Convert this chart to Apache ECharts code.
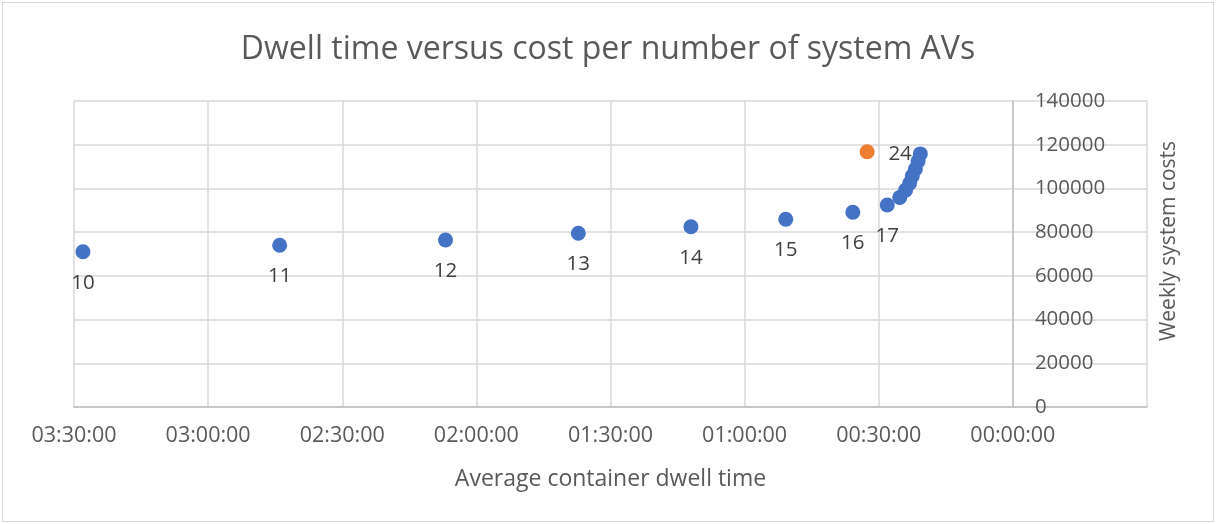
<!DOCTYPE html>
<html>
<head>
<meta charset="utf-8">
<script src="https://cdn.jsdelivr.net/npm/echarts@6/dist/echarts.min.js"></script>
<style>
  html, body { margin: 0; padding: 0; background: #fff; }
  #frame { position: absolute; left: 2px; top: 2px; width: 1210px; height: 518px; border: 1px solid #d9d9d9; }
  #chart { position: absolute; left: 0; top: 0; width: 1216px; height: 524px; }
</style>
</head>
<body>
<div id="frame"></div>
<div id="chart"></div>
<script>
// number of AVs in the system
const avCounts = [10, 11, 12, 13, 14, 15, 16, 17, 18, 19, 20, 21, 22, 23, 24];
// average container dwell time, minutes
const dwellMinutes = [208.0, 164.0, 126.9, 97.2, 72.0, 50.8, 35.8, 28.1, 25.3, 24.0, 23.1, 22.5, 21.8, 21.2, 20.7];
// weekly system costs
const weeklyCosts = [71000, 74000, 76400, 79500, 82500, 85900, 89100, 92400, 95900, 99200, 102400, 105700, 108900, 112500, 115800];
// labelled points
const labelledAVs = [10, 11, 12, 13, 14, 15, 16, 17, 24];
// highlighted (orange) point
const highlightDwell = [32.6];
const highlightCost = [116800];

const xTicksMin = -30, xTicksMax = 210, xStep = 30;
const yMax = 140000, yStep = 20000;

const TEXT = "#595959";
const GRID = "#d9d9d9";
const AXIS = "#bfbfbf";
const FONT = "Open Sans";

const GRID_LEFT = 74, GRID_RIGHT = 69, W = 1216;
// the cost axis crosses the time axis at 00:00:00
const plotW = W - GRID_LEFT - GRID_RIGHT;
const yAxisOffset = -plotW * (0 - xTicksMin) / (xTicksMax - xTicksMin);

function pad(n) { return String(n).padStart(2, "0"); }
function fmtTime(v) {
  if (v < 0) return "";
  const h = Math.floor(v / 60);
  const m = Math.round(v - h * 60);
  return pad(h) + ":" + pad(m) + ":00";
}

const chart = echarts.init(document.getElementById("chart"), null, { renderer: "canvas" });

const blueData = avCounts.map((n, i) => {
  const shown = labelledAVs.includes(n);
  const last = i === avCounts.length - 1;
  return {
    value: [dwellMinutes[i], weeklyCosts[i], n],
    label: {
      show: shown,
      position: last ? "left" : "bottom",
      distance: last ? 1 : 13,
    },
  };
});

chart.setOption({
  animation: false,
  backgroundColor: "transparent",
  textStyle: { fontFamily: FONT },
  title: {
    text: "Dwell time versus cost per number of system AVs",
    left: "center",
    top: 29,
    textStyle: { fontFamily: FONT, fontSize: 32, fontWeight: "normal", color: TEXT },
  },
  grid: { left: GRID_LEFT, right: GRID_RIGHT, top: 101, bottom: 117, outerBoundsMode: "none", containLabel: false },
  xAxis: {
    type: "value",
    inverse: true,
    min: xTicksMin,
    max: xTicksMax,
    interval: xStep,
    name: "Average container dwell time",
    nameLocation: "middle",
    nameGap: 61,
    nameTextStyle: { fontFamily: FONT, fontSize: 23, color: TEXT },
    axisLine: { show: true, onZero: false, lineStyle: { color: AXIS, width: 1.5 } },
    axisTick: { show: false },
    axisLabel: { margin: 18, fontFamily: FONT, fontSize: 21.5, color: TEXT, formatter: fmtTime },
    splitLine: { show: true, lineStyle: { color: GRID, width: 1.5 } },
  },
  yAxis: {
    type: "value",
    position: "right",
    offset: yAxisOffset,
    min: 0,
    max: yMax,
    interval: yStep,
    name: "Weekly system costs",
    nameLocation: "middle",
    nameRotate: 90,
    nameGap: 146,
    nameTextStyle: { fontFamily: FONT, fontSize: 21, color: TEXT, padding: [0, 0, 0, 26] },
    axisLine: { show: true, onZero: false, lineStyle: { color: AXIS, width: 1.5 } },
    axisTick: { show: false },
    axisLabel: { margin: 22, fontFamily: FONT, fontSize: 20.5, color: TEXT, formatter: (v) => String(v) },
    splitLine: { show: true, lineStyle: { color: GRID, width: 1.5 } },
  },
  series: [
    {
      name: "AVs",
      type: "scatter",
      symbolSize: 15,
      itemStyle: { color: "#4472C4", opacity: 1 },
      label: {
        fontFamily: FONT,
        fontSize: 20.5,
        color: "#404040",
        formatter: (p) => String(p.value[2]),
      },
      data: blueData,
      z: 3,
    },
    {
      name: "Highlight",
      type: "scatter",
      symbolSize: 15,
      itemStyle: { color: "#ED7D31", opacity: 1 },
      data: highlightDwell.map((d, i) => [d, highlightCost[i]]),
      z: 3,
    },
  ],
});
</script>
</body>
</html>
